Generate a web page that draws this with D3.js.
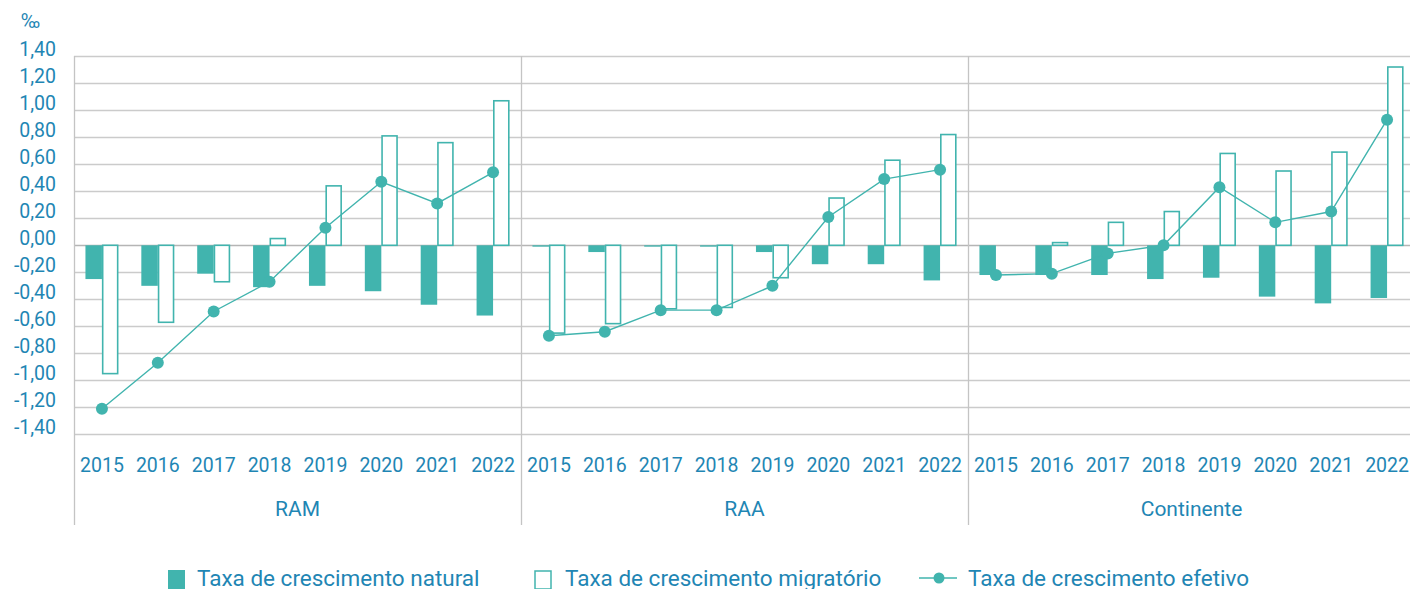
<!DOCTYPE html>
<html>
<head>
<meta charset="utf-8">
<script src="https://cdn.jsdelivr.net/npm/d3@7"></script>
<style>
  html, body { margin: 0; padding: 0; background: #fff; }
  #chart { width: 1410px; height: 589px; overflow: hidden; }
  text { font-family: Roboto, "Noto Sans", sans-serif; fill: #1f86b4; }
</style>
</head>
<body>
<div id="chart"></div>
<script>
// anos e regiões
const years = ['2015', '2016', '2017', '2018', '2019', '2020', '2021', '2022']
const regions = ['RAM', 'RAA', 'Continente']
const yTicks = [1.4, 1.2, 1.0, 0.8, 0.6, 0.4, 0.2, 0, -0.2, -0.4, -0.6, -0.8, -1.0, -1.2, -1.4]

// taxa de crescimento natural (‰)
const naturalRAM = [-0.25, -0.30, -0.21, -0.31, -0.30, -0.34, -0.44, -0.52]
const naturalRAA = [-0.01, -0.05, -0.01, -0.01, -0.05, -0.14, -0.14, -0.26]
const naturalCont = [-0.22, -0.22, -0.22, -0.25, -0.24, -0.38, -0.43, -0.39]

// taxa de crescimento migratório (‰)
const migraRAM = [-0.95, -0.57, -0.27, 0.05, 0.44, 0.81, 0.76, 1.07]
const migraRAA = [-0.65, -0.58, -0.47, -0.46, -0.24, 0.35, 0.63, 0.82]
const migraCont = [0.00, 0.02, 0.17, 0.25, 0.68, 0.55, 0.69, 1.32]

// taxa de crescimento efetivo (‰)
const efetRAM = [-1.21, -0.87, -0.49, -0.27, 0.13, 0.47, 0.31, 0.54]
const efetRAA = [-0.67, -0.64, -0.48, -0.48, -0.30, 0.21, 0.49, 0.56]
const efetCont = [-0.22, -0.21, -0.06, 0.00, 0.43, 0.17, 0.25, 0.93]

const naturalAll = [naturalRAM, naturalRAA, naturalCont]
const migraAll = [migraRAM, migraRAA, migraCont]
const efetAll = [efetRAM, efetRAA, efetCont]

const teal = '#41b4ae'
const grid = '#cbcbcb'
const fmt = v => d3.format('.2f')(v).replace('.', ',').replace('−', '-')

const svgWidth = 1410
const svgHeight = 589
const margin = { top: 56, left: 74 }
const panelW = 447

const svg = d3.select('#chart').append('svg')
    .attr('width', svgWidth)
    .attr('height', svgHeight)

const y = d3.scaleLinear().domain([-1.4, 1.4]).range([434.4, 56.2])

const xPanel = d3.scaleBand().domain(regions)
    .range([margin.left, margin.left + panelW * regions.length])

// grelha horizontal
svg.append('g').attr('class', 'grid')
    .selectAll('line').data(yTicks).join('line')
    .attr('x1', margin.left).attr('x2', svgWidth)
    .attr('y1', d => Math.round(y(d)) + 0.5)
    .attr('y2', d => Math.round(y(d)) + 0.5)
    .attr('stroke', d => d === 0 ? '#b5b5b5' : grid)
    .attr('stroke-width', 1.3)

// eixo y
const yAxis = svg.append('g')
    .attr('transform', 'translate(56,0)')
    .call(d3.axisLeft(y).tickValues(yTicks).tickFormat(fmt).tickSize(0).tickPadding(0))
yAxis.select('.domain').remove()
yAxis.selectAll('text')
    .attr('font-size', 19.5)
    .attr('dy', '-0.05em')
    .style('fill', '#1f86b4')

svg.append('text')
    .attr('x', 21).attr('y', 28)
    .attr('font-size', 20)
    .text('‰')

// separadores verticais
svg.append('g').selectAll('line').data(regions).join('line')
    .attr('x1', d => Math.round(xPanel(d)) + 0.5)
    .attr('x2', d => Math.round(xPanel(d)) + 0.5)
    .attr('y1', margin.top)
    .attr('y2', 525)
    .attr('stroke', '#c4c4c4')
    .attr('stroke-width', 1.3)

regions.forEach(function (region, i) {
    const x0 = d3.scaleBand().domain(years)
        .range([xPanel(region), xPanel(region) + panelW])
        .paddingInner(0.41).paddingOuter(0.205)
    const x1 = d3.scaleBand().domain(['natural', 'migra'])
        .range([0, x0.bandwidth()])
    const cx = d => x0(d) + x0.bandwidth() / 2

    const g = svg.append('g').attr('class', 'panel_' + i)

    // taxa natural (barras cheias)
    g.selectAll('rect.nat').data(years).join('rect')
        .attr('class', 'nat')
        .attr('x', d => x0(d) + x1('natural'))
        .attr('width', x1.bandwidth())
        .attr('y', (d, j) => y(Math.max(0, naturalAll[i][j])))
        .attr('height', (d, j) => Math.abs(y(naturalAll[i][j]) - y(0)))
        .attr('fill', teal)

    // taxa migratória (barras vazias)
    g.selectAll('rect.mig').data(years).join('rect')
        .attr('class', 'mig')
        .attr('x', d => x0(d) + x1('migra') + 0.75)
        .attr('width', x1.bandwidth() - 1.5)
        .attr('y', (d, j) => y(Math.max(0, migraAll[i][j])))
        .attr('height', (d, j) => Math.abs(y(migraAll[i][j]) - y(0)))
        .attr('fill', '#fff')
        .attr('stroke', teal)
        .attr('stroke-width', 1.6)
        .style('display', (d, j) => migraAll[i][j] === 0 ? 'none' : null)

    // taxa efetiva (linha)
    const line = d3.line().x((d, j) => cx(years[j])).y(d => y(d))
    g.append('path')
        .datum(efetAll[i])
        .attr('d', line)
        .attr('fill', 'none')
        .attr('stroke', teal)
        .attr('stroke-width', 1.4)

    g.selectAll('circle').data(efetAll[i]).join('circle')
        .attr('cx', (d, j) => cx(years[j]))
        .attr('cy', d => y(d))
        .attr('r', 6)
        .attr('fill', teal)

    // anos
    g.selectAll('text.year').data(years).join('text')
        .attr('class', 'year')
        .attr('x', d => cx(d))
        .attr('y', 471.5)
        .attr('text-anchor', 'middle')
        .attr('font-size', 19.5)
        .text(d => d)

    g.append('text')
        .attr('x', xPanel(region) + panelW / 2)
        .attr('y', 516)
        .attr('text-anchor', 'middle')
        .attr('font-size', 21)
        .text(region)
})

// legenda
const legend = svg.append('g').attr('class', 'legend')
legend.append('rect')
    .attr('x', 168).attr('y', 570).attr('width', 17).attr('height', 19)
    .attr('fill', teal)
legend.append('text')
    .attr('x', 197).attr('y', 586).attr('font-size', 22.5)
    .text('Taxa de crescimento natural')

legend.append('rect')
    .attr('x', 535).attr('y', 571).attr('width', 16).attr('height', 18)
    .attr('fill', '#fff').attr('stroke', teal).attr('stroke-width', 1.5)
legend.append('text')
    .attr('x', 565).attr('y', 586).attr('font-size', 22.5)
    .text('Taxa de crescimento migratório')

legend.append('line')
    .attr('x1', 919).attr('x2', 957).attr('y1', 578).attr('y2', 578)
    .attr('stroke', teal).attr('stroke-width', 1.5)
legend.append('circle')
    .attr('cx', 939).attr('cy', 578).attr('r', 5.5)
    .attr('fill', teal)
legend.append('text')
    .attr('x', 968).attr('y', 586).attr('font-size', 22.5)
    .text('Taxa de crescimento efetivo')
</script>
</body>
</html>
